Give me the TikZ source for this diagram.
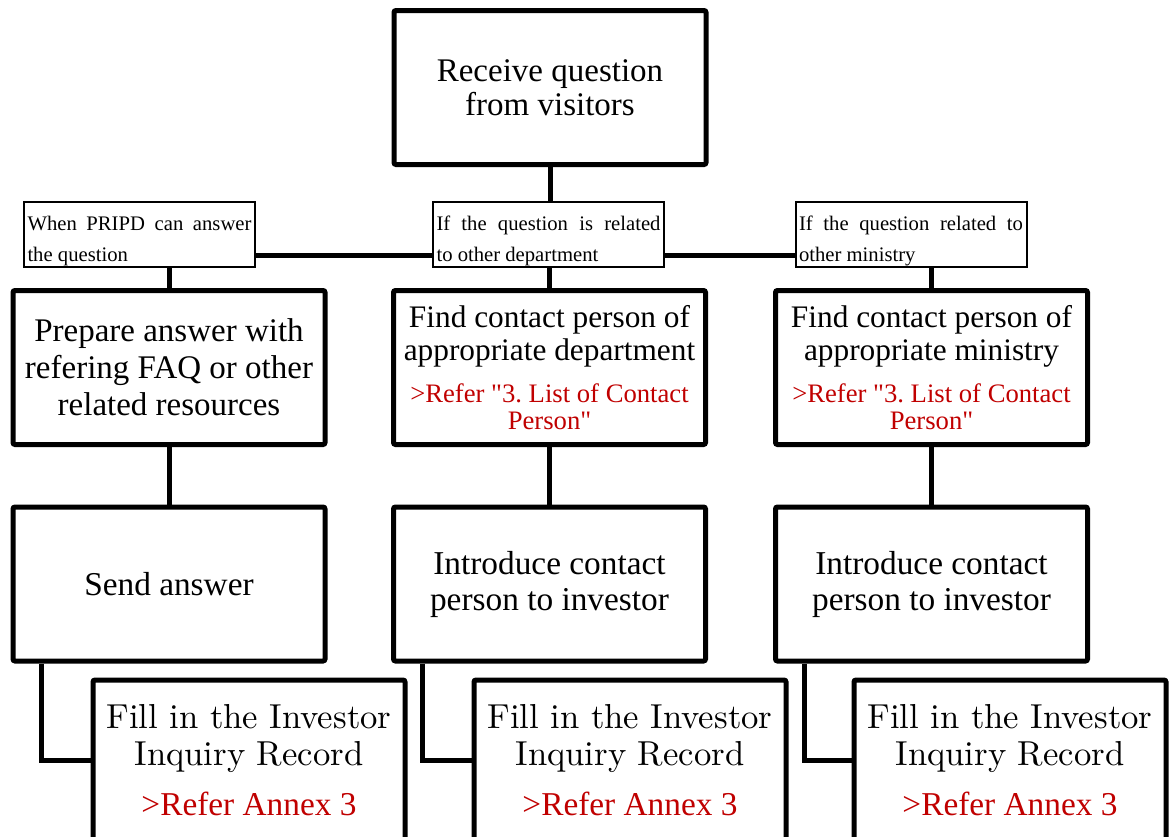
\documentclass[tikz,border=0pt]{standalone}
\usepackage{fontspec}
\newfontfamily\timesfont{Liberation Serif}
\newfontfamily\fillfont{lmroman10-regular.otf}
\definecolor{refred}{RGB}{192,0,0}
\newcommand{\spreadtext}[1]{\rule{0pt}{20pt}\makebox[168pt][s]{\spaceskip=\fontdimen2\font plus 1fil\relax #1}}
\newcommand{\txtsize}[2]{\fontsize{#1}{#2}\selectfont\spaceskip=\fontdimen2\font\xspaceskip=\fontdimen2\font\relax}

\begin{document}
\begin{tikzpicture}[x=0.75pt,y=-0.75pt,
    procbox/.style={draw, line width=3.75pt, rounded corners=1.5pt, minimum width=234pt, minimum height=115.5pt, text width=232pt, align=center, inner sep=0pt, font=\timesfont},
    lblbox/.style={draw, line width=1.5pt, minimum width=173.25pt, minimum height=48.75pt, text width=168pt, align=left, inner sep=0pt, font=\timesfont},
    link/.style={line width=3.75pt}]
            \path[use as bounding box, clip] (0,0) rectangle (1171,836);
            % top
            \node[procbox] (recv) at (550,87.5) {\txtsize{24.75}{25.5}Receive question\\from visitors\par};
            % conditions
            \node[lblbox] (lblL) at (139.5,234.5) {\txtsize{15.5}{23.25}\spreadtext{When PRIPD can answer}\\the question\par};
            \node[lblbox] (lblM) at (548.5,234.5) {\txtsize{15.5}{23.25}\spreadtext{If the question is related}\\to other department\par};
            \node[lblbox] (lblR) at (911,234.5) {\txtsize{15.5}{23.25}\spreadtext{If the question related to}\\other ministry\par};
            % first row
            \node[procbox] (prepL) at (169,367.5) {\txtsize{24.75}{27.75}Prepare answer with\\refering FAQ or other\\related resources\par};
            \node[procbox] (findM) at (549.5,367.5) {\txtsize{23.5}{24.75}Find contact person of\\appropriate department\par\vspace{11pt}\color{refred}\txtsize{20}{20.25}>Refer "3. List of Contact\\Person"\par};
            \node[procbox] (findR) at (931.5,367.5) {\txtsize{23.5}{24.75}Find contact person of\\appropriate ministry\par\vspace{11pt}\color{refred}\txtsize{20}{20.25}>Refer "3. List of Contact\\Person"\par};
            % second row
            \node[procbox] (sendL) at (169,584) {\txtsize{25}{27}Send answer\par};
            \node[procbox] (introM) at (549.5,584) {\txtsize{25}{27}Introduce contact\\person to investor\par};
            \node[procbox] (introR) at (931.5,584) {\txtsize{25}{27}Introduce contact\\person to investor\par};
            % records
            \node[procbox, minimum height=120pt] (fillL) at (249,760) {\fillfont\txtsize{26}{27.75}Fill in the Investor\\Inquiry Record\par\vspace{10pt}\timesfont\color{refred}\txtsize{25}{27}>Refer Annex 3\par};
            \node[procbox, minimum height=120pt] (fillM) at (630,760) {\fillfont\txtsize{26}{27.75}Fill in the Investor\\Inquiry Record\par\vspace{10pt}\timesfont\color{refred}\txtsize{25}{27}>Refer Annex 3\par};
            \node[procbox, minimum height=120pt] (fillR) at (1010,760) {\fillfont\txtsize{26}{27.75}Fill in the Investor\\Inquiry Record\par\vspace{10pt}\timesfont\color{refred}\txtsize{25}{27}>Refer Annex 3\par};
            % connectors
            \draw[link] (recv.south) -- (recv.south |- lblM.north);
            \draw[link] ([yshift=-15.4pt]lblL.east) -- ([yshift=-15.4pt]lblM.west);
            \draw[link] ([yshift=-15.4pt]lblM.east) -- ([yshift=-15.4pt]lblR.west);
            \draw[link] (prepL.north) -- (prepL.north |- lblL.south);
            \draw[link] (findM.north) -- (findM.north |- lblM.south);
            \draw[link] (findR.north) -- (findR.north |- lblR.south);
            \draw[link] (prepL.south) -- (sendL.north);
            \draw[link] (findM.south) -- (introM.north);
            \draw[link] (findR.south) -- (introR.north);
            \draw[link] ([xshift=23.6pt]sendL.south west) |- (fillL.west);
            \draw[link] ([xshift=23.6pt]introM.south west) |- (fillM.west);
            \draw[link] ([xshift=23.6pt]introR.south west) |- (fillR.west);
        \end{tikzpicture}
\end{document}
